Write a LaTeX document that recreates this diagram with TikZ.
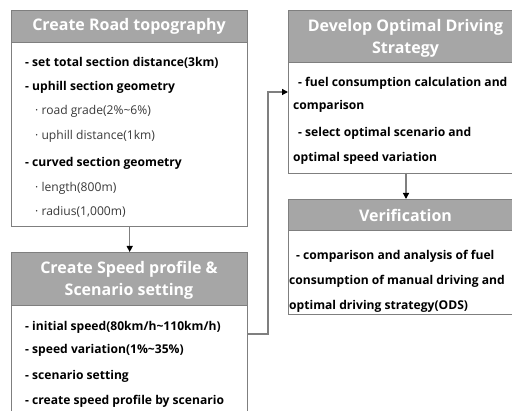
\documentclass[tikz,border=0pt]{standalone}
\usepackage{fontspec}
\setmainfont{Open Sans}
\usetikzlibrary{arrows.meta}
\definecolor{hdrfill}{HTML}{A6A6A6}
\definecolor{frame}{HTML}{7F7F7F}
\definecolor{subtxt}{HTML}{3A3A3A}
\tikzset{
  hdr/.style={draw=frame, line width=1.4pt, fill=hdrfill, anchor=north west, inner sep=0pt},
  bodybox/.style={draw=frame, line width=1.4pt, fill=white, anchor=north west, inner sep=0pt},
  hdrtxt/.style={text=white, font=\fontsize{16}{22}\selectfont\bfseries, align=center, inner sep=0pt},
  item/.style={anchor=base west, inner sep=0pt, font=\fontsize{12.1}{15}\selectfont\bfseries},
  subitem/.style={anchor=base west, inner sep=0pt, text=subtxt, font=\fontsize{12.1}{15}\selectfont},
  link/.style={draw=frame, line width=1.3pt},
  arr/.style={link, -{Triangle[length=6pt,width=6pt,fill=black,color=black]}}
}
\begin{document}
\begin{tikzpicture}[x=1pt,y=-1pt]
\useasboundingbox (0,0) rectangle (512,411);
\begin{scope}
\clip (0,0) rectangle (512,411);
% Road topography
\node[hdr, minimum width=236pt, minimum height=32pt] (h1) at (11,10) {};
\node[bodybox, minimum width=236pt, minimum height=184pt] (b1) at (11,42) {};
\node[hdrtxt] (t1) at (129,26) {Create Road topography};
\node[item] (r11) at (25,67) {- set total section distance(3km)};
\node[item] (r12) at (25,91) {- uphill section geometry};
\node[subitem] (r13) at (35,115) {· road grade(2\%\textasciitilde 6\%)};
\node[subitem] (r14) at (35,140) {· uphill distance(1km)};
\node[item] (r15) at (25,167) {- curved section geometry};
\node[subitem] (r16) at (35,192) {· length(800m)};
\node[subitem] (r17) at (35,216) {· radius(1,000m)};
% Speed profile
\node[hdr, minimum width=236pt, minimum height=53pt] (h2) at (11,252) {};
\node[bodybox, minimum width=236pt, minimum height=130pt] (b2) at (11,305) {};
\node[hdrtxt] (t2) at (129,280) {Create Speed profile \&\\Scenario setting};
\node[item] (r21) at (25,331) {- initial speed(80km/h\textasciitilde 110km/h)};
\node[item] (r22) at (25,354) {- speed variation(1\%\textasciitilde 35\%)};
\node[item] (r23) at (25,380) {- scenario setting};
\node[item] (r24) at (25,405) {- create speed profile by scenario};
% Optimal strategy
\node[hdr, minimum width=235pt, minimum height=52pt] (h3) at (288,10) {};
\node[bodybox, minimum width=235pt, minimum height=111pt] (b3) at (288,62) {};
\node[hdrtxt] (t3) at (405.5,38) {Develop Optimal Driving\\Strategy};
\node[item] (r31) at (298,87) {- fuel consumption calculation and};
\node[item] (r32) at (293,110) {comparison};
\node[item] (r33) at (298,137) {- select optimal scenario and};
\node[item] (r34) at (293,162) {optimal speed variation};
% Verification
\node[hdr, minimum width=235pt, minimum height=31pt] (h4) at (288,199) {};
\node[bodybox, minimum width=235pt, minimum height=84pt] (b4) at (288,230) {};
\node[hdrtxt] (t4) at (405.5,215) {Verification};
\node[item] (r41) at (296,260) {- comparison and analysis of fuel};
\node[item] (r42) at (289,285) {consumption of manual driving and};
\node[item] (r43) at (289,310) {optimal driving strategy(ODS)};
\end{scope}
% connectors
\draw[arr] (b1.south) -- (h2.north);
\coordinate (j1) at (268,334);
\coordinate (j2) at (268,92);
\draw[arr] (j1 -| b2.east) -- (j1) -- (j2) -- (j2 -| h3.west);
\coordinate (d3) at (406,173);
\draw[arr] (d3) -- (d3 |- h4.north);
\end{tikzpicture}
\end{document}
